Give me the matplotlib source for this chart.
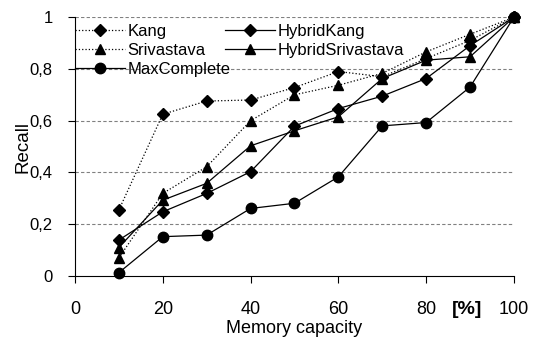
import matplotlib.pyplot as plt

# 記憶體容量 (%) 與各方法的 Recall
memory = [10, 20, 30, 40, 50, 60, 70, 80, 90, 100]
kang = [0.255, 0.625, 0.676, 0.68, 0.728, 0.79, 0.77, 0.84, 0.91, 1.0]
srivastava = [0.07, 0.319, 0.422, 0.60, 0.70, 0.737, 0.783, 0.866, 0.934, 1.0]
max_complete = [0.013, 0.152, 0.158, 0.261, 0.281, 0.383, 0.58, 0.593, 0.73, 1.0]
hybrid_kang = [0.139, 0.248, 0.319, 0.403, 0.579, 0.647, 0.695, 0.763, 0.89, 1.0]
hybrid_srivastava = [0.11, 0.293, 0.358, 0.503, 0.561, 0.615, 0.763, 0.834, 0.847, 1.0]

x_ticks = [0, 20, 40, 60, 80, 100]
y_ticks = [0, 0.2, 0.4, 0.6, 0.8, 1.0]
y_labels = ['0', '0,2', '0,4', '0,6', '0,8', '1']

plt.rcParams['font.family'] = ['Liberation Sans', 'DejaVu Sans']

fig = plt.figure(figsize=(5.34, 3.37), dpi=100)
ax = fig.add_axes([0.1404, 0.181, 0.822, 0.768])

style = dict(color='black', linewidth=0.9, clip_on=False, zorder=3)
l1, = ax.plot(memory, kang, linestyle=':', marker='D', markersize=6, label='Kang', **style)
l2, = ax.plot(memory, srivastava, linestyle=':', marker='^', markersize=7.5, label='Srivastava', **style)
l3, = ax.plot(memory, max_complete, linestyle='-', marker='o', markersize=7.5, label='MaxComplete', **style)
l4, = ax.plot(memory, hybrid_kang, linestyle='-', marker='D', markersize=6, label='HybridKang', **style)
l5, = ax.plot(memory, hybrid_srivastava, linestyle='-', marker='^', markersize=7.5, label='HybridSrivastava', **style)

ax.set_xlim(0, 100)
ax.set_ylim(0, 1)
ax.set_xticks(x_ticks)
ax.set_xticklabels([str(t) for t in x_ticks], fontsize=13)
ax.set_yticks(y_ticks)
ax.set_yticklabels(y_labels, fontsize=12)
ax.tick_params(axis='x', direction='out', length=5, width=0.8, pad=13)
ax.tick_params(axis='y', direction='out', length=5, width=0.8, pad=11)

# 水平虛線格線
for y in y_ticks[1:]:
    ax.axhline(y, color='#808080', linestyle=(0, (3, 2)), linewidth=0.8, zorder=1)

ax.spines['top'].set_visible(False)
ax.spines['right'].set_visible(False)
ax.spines['left'].set_linewidth(0.8)
ax.spines['bottom'].set_linewidth(0.8)

ax.set_ylabel('Recall', fontsize=13.5)
ax.yaxis.set_label_coords(-0.098, 0.5)
ax.set_xlabel('Memory capacity', fontsize=13)
ax.xaxis.set_label_coords(0.5, -0.171)
ax.text(89.4, -0.13, '[%]', fontsize=14, fontweight='bold', ha='center', va='center', transform=ax.transData)

leg_kw = dict(frameon=False, fontsize=12, handlelength=3.0, handletextpad=0.15,
              labelspacing=0.25, borderpad=0, borderaxespad=0, numpoints=1, loc='upper left')
leg1 = ax.legend(handles=[l1, l2, l3], bbox_to_anchor=(0.0, 0.975), **leg_kw)
ax.add_artist(leg1)
ax.legend(handles=[l4, l5], bbox_to_anchor=(0.342, 0.975), **leg_kw)

plt.savefig('out.png', dpi=100)
